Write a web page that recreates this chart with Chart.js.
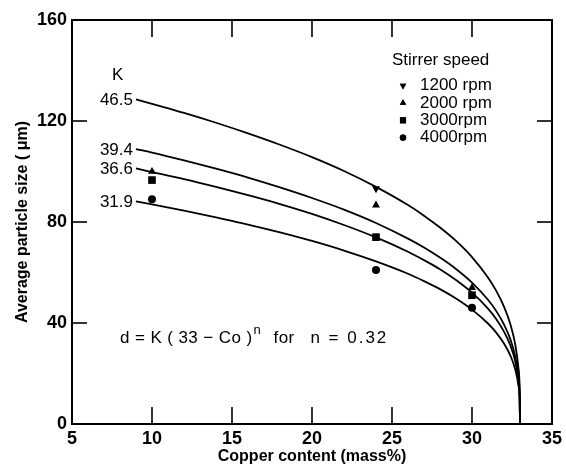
<!DOCTYPE html>
<html>
<head>
<meta charset="utf-8">
<script src="https://cdn.jsdelivr.net/npm/chart.js@4/dist/chart.umd.min.js"></script>
<style>
  html,body{margin:0;padding:0;background:#fff;}
  canvas{display:block;}
</style>
</head>
<body>
<canvas id="c" width="566" height="470"></canvas>
<script>
// ---- Data ----
const xTicks = [5, 10, 15, 20, 25, 30, 35];
const yTicks = [0, 40, 80, 120, 160];

// Fitted curves d = K(33 - Co)^n
const curveX = [9, 10, 12, 14, 16, 18, 20, 22, 24, 26, 27, 28, 29, 30, 31, 31.5, 32, 32.4, 32.7, 32.9, 32.98, 33];
const curveK465 = [128.6, 126.8, 123.2, 119.3, 115.1, 110.6, 105.7, 100.2, 93.9, 86.7, 82.5, 77.8, 72.5, 66.1, 58.0, 52.9, 46.5, 39.5, 31.6, 22.3, 13.3, 0];
const curveK394 = [108.9, 107.5, 104.4, 101.1, 97.6, 93.7, 89.5, 84.9, 79.6, 73.4, 69.9, 65.9, 61.4, 56.0, 49.2, 44.9, 39.4, 33.5, 26.8, 18.9, 11.3, 0];
const curveK366 = [101.2, 99.8, 97.0, 93.9, 90.6, 87.1, 83.2, 78.8, 73.9, 68.2, 64.9, 61.3, 57.0, 52.0, 45.7, 41.7, 36.6, 31.1, 24.9, 17.5, 10.5, 0];
const curveK319 = [88.2, 87.0, 84.5, 81.8, 79.0, 75.9, 72.5, 68.7, 64.4, 59.5, 56.6, 53.4, 49.7, 45.3, 39.8, 36.3, 31.9, 27.1, 21.7, 15.3, 9.1, 0];
const kLabels = ['46.5', '39.4', '36.6', '31.9'];

// Measured points
const rpm1200X = [24];
const rpm1200Y = [93.2];
const rpm2000X = [10, 24, 30];
const rpm2000Y = [100, 86.7, 54];
const rpm3000X = [10, 24, 30];
const rpm3000Y = [96.6, 74, 51];
const rpm4000X = [10, 24, 30];
const rpm4000Y = [89, 61, 46];
const legendLabels = ['1200 rpm', '2000 rpm', '3000rpm', '4000rpm'];

// ---- Build datasets ----
const pts = (xs, ys) => xs.map((x, i) => ({x: x, y: ys[i]}));
const curves = [curveK465, curveK394, curveK366, curveK319];
const curveSets = curves.map(c => ({
  type: 'line',
  data: pts(curveX, c),
  borderColor: '#000',
  borderWidth: 1.8,
  pointRadius: 0,
  fill: false,
  cubicInterpolationMode: 'monotone'
}));
const markerDefs = [
  {xs: rpm1200X, ys: rpm1200Y, style: 'triangle', rot: 180, r: 4.6},
  {xs: rpm2000X, ys: rpm2000Y, style: 'triangle', rot: 0, r: 4.6},
  {xs: rpm3000X, ys: rpm3000Y, style: 'rect', rot: 0, r: 5.4},
  {xs: rpm4000X, ys: rpm4000Y, style: 'circle', rot: 0, r: 4}
];
const markerSets = markerDefs.map(m => ({
  type: 'line',
  showLine: false,
  data: pts(m.xs, m.ys),
  pointStyle: m.style,
  rotation: m.rot,
  pointRadius: m.r,
  pointBackgroundColor: '#000',
  pointBorderColor: '#000',
  pointBorderWidth: 0
}));

const FONT = "'Liberation Sans', Arial, sans-serif";

const annot = {
  id: 'annot',
  afterDraw(chart) {
    const {ctx, chartArea: a, scales: {x, y}} = chart;
    ctx.save();
    ctx.strokeStyle = '#000';
    ctx.lineWidth = 2;
    ctx.strokeRect(a.left, a.top, a.right - a.left, a.bottom - a.top);
    ctx.lineWidth = 1.6;
    const line = (x1, y1, x2, y2) => { ctx.beginPath(); ctx.moveTo(x1, y1); ctx.lineTo(x2, y2); ctx.stroke(); };
    xTicks.forEach(v => {
      if (v === x.min || v === x.max) return;
      const px = x.getPixelForValue(v);
      line(px, a.bottom, px, a.bottom - 17);
      line(px, a.top, px, a.top + 17);
    });
    yTicks.forEach(v => {
      if (v === y.min || v === y.max) return;
      const py = y.getPixelForValue(v);
      line(a.left, py, a.left + 15, py);
      line(a.right, py, a.right - 15, py);
    });

    // K labels
    ctx.fillStyle = '#000';
    ctx.font = '17px ' + FONT;
    ctx.textBaseline = 'middle';
    ctx.textAlign = 'center';
    ctx.fillText('K', x.getPixelForValue(7.85), y.getPixelForValue(138));
    ctx.textAlign = 'right';
    curves.forEach((c, i) => {
      ctx.fillText(kLabels[i], x.getPixelForValue(curveX[0]) - 3, y.getPixelForValue(c[0]) + 1);
    });

    // Formula
    ctx.textAlign = 'left';
    ctx.textBaseline = 'alphabetic';
    let fx = x.getPixelForValue(8.0);
    const fy = y.getPixelForValue(32);
    ctx.letterSpacing = '0.4px';
    const p1 = 'd = K ( 33 \u2212 Co )';
    ctx.fillText(p1, fx, fy);
    fx += ctx.measureText(p1).width;
    ctx.font = '13px ' + FONT;
    ctx.fillText('n', fx + 1, fy - 9);
    ctx.font = '17px ' + FONT;
    ctx.fillText('for', x.getPixelForValue(17.6), fy);
    ctx.letterSpacing = '2px';
    ctx.fillText('n = 0.32', x.getPixelForValue(19.9), fy);
    ctx.letterSpacing = '0px';

    // Legend
    const lx = x.getPixelForValue(25.0);
    const ly = y.getPixelForValue(144);
    ctx.textBaseline = 'middle';
    ctx.fillText('Stirrer speed', lx, ly);
    markerDefs.forEach((m, i) => {
      const yy = ly + 17.3 * (i + 1) + 8;
      const mx = lx + 11;
      Chart.helpers.drawPoint(ctx, {pointStyle: m.style, rotation: m.rot, radius: m.r * 0.8, borderWidth: 0}, mx, yy);
      ctx.fillStyle = '#000';
      ctx.fill();
      ctx.fillText(legendLabels[i], lx + 28, yy);
    });
    ctx.restore();
  }
};

new Chart(document.getElementById('c'), {
  type: 'line',
  data: {datasets: [...curveSets, ...markerSets]},
  options: {
    responsive: false,
    animation: false,
    layout: {padding: {left: 0, right: 12, top: 20, bottom: 0}},
    plugins: {legend: {display: false}, tooltip: {enabled: false}},
    scales: {
      x: {
        type: 'linear', min: 5, max: 35,
        afterBuildTicks: s => { s.ticks = xTicks.map(v => ({value: v})); },
        afterFit: s => { s.height = 46; },
        grid: {display: false, drawTicks: false},
        border: {display: false},
        ticks: {padding: 4, color: '#000', font: {family: FONT, size: 18, weight: 'bold'}, maxRotation: 0},
        title: {display: true, text: 'Copper content (mass%)', color: '#000',
                font: {family: FONT, size: 16, weight: 'bold'}, padding: {top: 0, bottom: 4}}
      },
      y: {
        type: 'linear', min: 0, max: 160,
        afterBuildTicks: s => { s.ticks = yTicks.map(v => ({value: v})); },
        afterFit: s => { s.width = 72; },
        grid: {display: false, drawTicks: false},
        border: {display: false},
        ticks: {padding: 5, color: '#000', font: {family: FONT, size: 18, weight: 'bold'}},
        title: {display: true, text: 'Average particle size ( \u03bcm)', color: '#000',
                font: {family: FONT, size: 16, weight: 'bold'}, padding: {top: 13, bottom: 0}}
      }
    }
  },
  plugins: [annot]
});
</script>
</body>
</html>
